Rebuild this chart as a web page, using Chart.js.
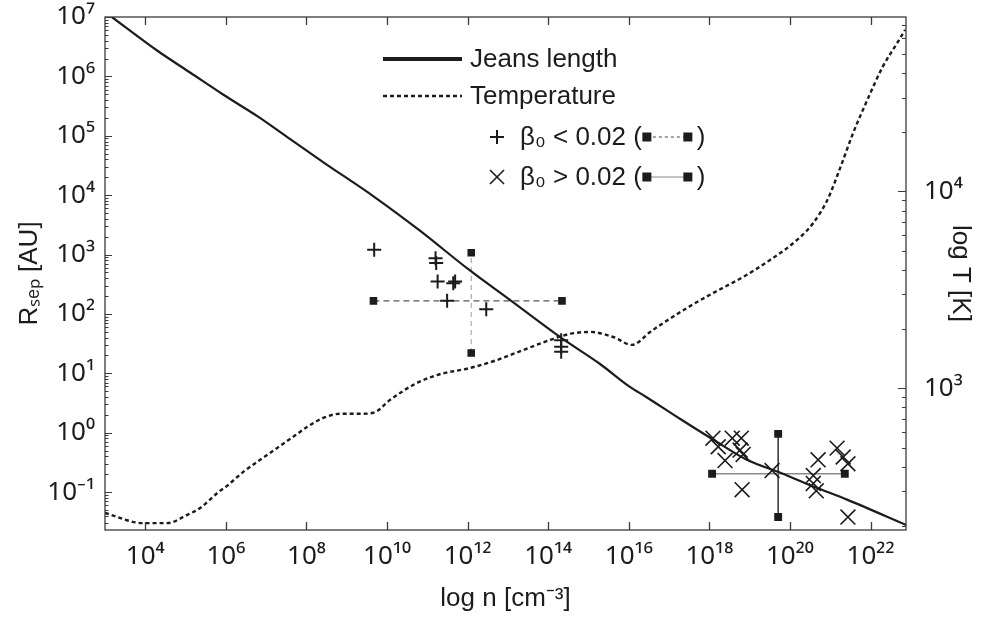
<!DOCTYPE html>
<html>
<head>
<meta charset="utf-8">
<script src="https://cdn.jsdelivr.net/npm/chart.js@4.4.1/dist/chart.umd.min.js"></script>
<style>
  html, body { margin: 0; padding: 0; background: #ffffff; }
  canvas { display: block; }
</style>
</head>
<body>
<canvas id="c" width="981" height="619"></canvas>
<script>
// ---------------- data ----------------
// Jeans length curve: density n [cm^-3] vs R_sep [AU]
const jeansN = [1.48e3, 2.0e4, 1.32e5, 8.7e5, 6.3e6, 4.2e7, 2.75e8, 4.9e9, 6.2e10, 1.1e12, 1.1e13, 1.95e14, 1.9e15, 1.07e16, 2.7e16, 1.9e17, 1.26e18, 8.5e18, 6.0e19, 4.0e20, 2.7e21, 7.6e22];
const jeansR = [1e7, 2.7e6, 1.15e6, 4.9e5, 2.1e5, 8.5e4, 3.5e4, 9.3e3, 2.6e3, 550, 174, 41, 14.5, 5.9, 4.0, 1.7, 0.76, 0.35, 0.21, 0.123, 0.074, 0.028];

// Temperature curve: density n vs T [K] (right axis)
const tempN = [1.0e3, 8.9e3, 3.5e4, 1.1e5, 2.3e5, 6.2e5, 1.07e6, 2.7e6, 7.1e6, 1.9e7, 4.7e7, 1.05e8, 2.6e8, 6.9e8, 2.1e9, 4.6e9, 1.2e10, 4.5e10, 1.8e11, 1.17e12, 5.5e12, 2.4e13, 1.12e14, 3.5e14, 1.1e15, 4.1e15, 1.2e16, 3.4e16, 7.2e16, 2.8e17, 1.26e18, 6.9e18, 3.2e19, 1.5e20, 3.8e20, 8.5e20, 1.8e21, 3.7e21, 8.3e21, 2.0e22, 4.6e22, 7.2e22];
const tempT = [233, 207, 207, 228, 247, 295, 320, 377, 434, 499, 568, 638, 708, 743, 743, 752, 875, 1042, 1172, 1271, 1396, 1567, 1762, 1892, 1936, 1824, 1663, 1936, 2148, 2564, 3055, 3681, 4487, 5675, 6918, 9057, 13300, 19800, 29100, 42900, 56800, 66100];

// beta0 < 0.02 fragments (+)
const plusN = [4.8e9, 1.6e11, 1.66e11, 1.8e11, 4.9e11, 4.4e11, 3.1e11, 2.9e12, 2.1e14, 2.1e14, 2.1e14];
const plusR = [1200, 870, 720, 350, 350, 330, 166, 120, 36, 28, 23];

// beta0 > 0.02 fragments (x)
const crossN = [1.23e18, 1.66e18, 2.45e18, 3.7e18, 6.2e18, 5.8e18, 6.9e18, 6.5e18, 3.6e19, 5.0e20, 3.8e20, 3.8e20, 4.5e20, 1.48e21, 2.1e21, 2.75e21, 2.75e21];
const crossR = [0.81, 0.58, 0.34, 0.81, 0.81, 0.51, 0.43, 0.11, 0.23, 0.35, 0.19, 0.14, 0.105, 0.55, 0.39, 0.30, 0.038];

// spread bars: [min, centre, max]
const lowBarN = [4.6e9, 1.23e12, 2.2e14];
const lowBarR = [22, 166, 1070];
const highBarN = [1.17e18, 5.1e19, 2.3e21];
const highBarR = [0.038, 0.204, 0.955];

// axis ranges and tick labels
const nRange = [1e3, 7.6e22];
const rRange = [0.023, 1e7];
const tRange = [191, 7.69e4];
const nTicks = [1e4, 1e6, 1e8, 1e10, 1e12, 1e14, 1e16, 1e18, 1e20, 1e22];
const rTicks = [1e-1, 1e0, 1e1, 1e2, 1e3, 1e4, 1e5, 1e6, 1e7];
const tTicks = [1e3, 1e4];

const legendLabels = ['Jeans length', 'Temperature', 'β₀ < 0.02 (', 'β₀ > 0.02 ('];
const xTitle = 'log n [cm⁻³]';
const yTitle = 'Rₛₑₚ [AU]';
const y2Title = 'log T [K]';

// ---------------- helpers ----------------
const SUP = {'0':'⁰','1':'¹','2':'²','3':'³','4':'⁴','5':'⁵','6':'⁶','7':'⁷','8':'⁸','9':'⁹','-':'⁻'};
const powLabel = v => '10' + String(Math.round(Math.log10(v))).split('').map(ch => SUP[ch]).join('');
const pts = (xs, ys) => xs.map((x, i) => ({x: x, y: ys[i]}));
const FONT = "'Liberation Sans', Arial, Helvetica, sans-serif";
const INK = '#1c1c1c';

const frame = {
  id: 'frame',
  afterDraw(chart) {
    const {ctx, chartArea: a, scales} = chart;
    ctx.save();
    ctx.strokeStyle = '#3a3a3a';
    ctx.lineWidth = 1.3;
    const seg = (x1, y1, x2, y2) => { ctx.beginPath(); ctx.moveTo(x1, y1); ctx.lineTo(x2, y2); ctx.stroke(); };
    ctx.strokeRect(a.left, a.top, a.right - a.left, a.bottom - a.top);
    nTicks.forEach(v => {
      const px = Math.round(scales.x.getPixelForValue(v)) + 0.5;
      seg(px, a.bottom, px, a.bottom - 8);
      seg(px, a.top, px, a.top + 8);
    });
    ctx.lineWidth = 1;
    const minorTicks = (scale, lo, hi, x0, dir, majLen, minLen) => {
      for (let e = Math.floor(Math.log10(lo)); e <= Math.ceil(Math.log10(hi)); e++) {
        for (let m = 1; m <= 9; m++) {
          const v = m * Math.pow(10, e);
          if (v < lo || v > hi) continue;
          const py = Math.round(scale.getPixelForValue(v)) + 0.5;
          seg(x0, py, x0 + dir * (m === 1 ? majLen : minLen), py);
        }
      }
    };
    minorTicks(scales.y, rRange[0], rRange[1], a.left, 1, 7, 3.5);
    minorTicks(scales.yT, tRange[0], tRange[1], a.right, -1, 8, 4);
    ctx.restore();
  }
};

const keyBox = {
  id: 'keyBox',
  afterDraw(chart) {
    const {ctx, chartArea: a} = chart;
    const x0 = a.left + 278, tx = a.left + 365, mx = a.left + 392, tx2 = a.left + 415;
    const rows = [a.top + 42, a.top + 79, a.top + 120, a.top + 160];
    ctx.save();
    ctx.fillStyle = INK;
    ctx.strokeStyle = INK;
    ctx.font = '26px ' + FONT;
    ctx.textBaseline = 'middle';
    ctx.textAlign = 'left';
    const seg = (x1, y1, x2, y2) => { ctx.beginPath(); ctx.moveTo(x1, y1); ctx.lineTo(x2, y2); ctx.stroke(); };
    ctx.lineWidth = 4;
    seg(x0, rows[0], x0 + 79, rows[0]);
    ctx.fillText(legendLabels[0], tx, rows[0] + 1);
    ctx.lineWidth = 2.4;
    ctx.setLineDash([4, 3]);
    seg(x0, rows[1], x0 + 79, rows[1]);
    ctx.setLineDash([]);
    ctx.fillText(legendLabels[1], tx, rows[1] + 1);
    ctx.lineWidth = 2;
    seg(mx - 7, rows[2], mx + 7, rows[2]);
    seg(mx, rows[2] - 7, mx, rows[2] + 7);
    ctx.lineWidth = 1.6;
    seg(mx - 7, rows[3] - 7, mx + 7, rows[3] + 7);
    seg(mx - 7, rows[3] + 7, mx + 7, rows[3] - 7);
    [2, 3].forEach((k, j) => {
      const y = rows[k];
      ctx.fillText(legendLabels[k], tx2, y + 1);
      const w = ctx.measureText(legendLabels[k]).width;
      const s1 = tx2 + w + 5, s2 = s1 + 41;
      ctx.lineWidth = 1.2;
      ctx.strokeStyle = j === 0 ? '#666' : '#888';
      if (j === 0) ctx.setLineDash([3, 3]);
      seg(s1, y, s2, y);
      ctx.setLineDash([]);
      ctx.fillStyle = INK;
      ctx.fillRect(s1 - 4.5, y - 4.5, 9, 9);
      ctx.fillRect(s2 - 4.5, y - 4.5, 9, 9);
      ctx.fillText(')', s2 + 9, y + 1);
      ctx.strokeStyle = INK;
    });
    ctx.restore();
  }
};

const tickFont = {family: "'Noto Sans', 'DejaVu Sans', sans-serif", size: 26};
const titleFont = {family: FONT, size: 26};
const noPadV = s => { s.paddingTop = 0; s.paddingBottom = 0; };

new Chart(document.getElementById('c'), {
  type: 'scatter',
  data: {
    datasets: [
      {
        type: 'line', label: 'Jeans length', data: pts(jeansN, jeansR), yAxisID: 'y',
        borderColor: INK, borderWidth: 2.2, pointRadius: 0, cubicInterpolationMode: 'monotone', order: 3
      },
      {
        type: 'line', label: 'Temperature', data: pts(tempN, tempT), yAxisID: 'yT',
        borderColor: INK, borderWidth: 2.4, borderDash: [4, 3], pointRadius: 0, cubicInterpolationMode: 'monotone', order: 4
      },
      {
        type: 'line', label: 'low spread n', yAxisID: 'y',
        data: pts([lowBarN[0], lowBarN[2]], [lowBarR[1], lowBarR[1]]),
        borderColor: '#555', borderWidth: 1.2, borderDash: [6, 4],
        pointStyle: 'rect', pointRadius: 4.5, pointBackgroundColor: INK, pointBorderColor: INK, order: 5
      },
      {
        type: 'line', label: 'low spread R', yAxisID: 'y',
        data: pts([lowBarN[1], lowBarN[1]], [lowBarR[0], lowBarR[2]]),
        borderColor: '#aaa', borderWidth: 1.2, borderDash: [5, 4],
        pointStyle: 'rect', pointRadius: 4.5, pointBackgroundColor: INK, pointBorderColor: INK, order: 5
      },
      {
        type: 'line', label: 'high spread n', yAxisID: 'y',
        data: pts([highBarN[0], highBarN[2]], [highBarR[1], highBarR[1]]),
        borderColor: '#8a8a8a', borderWidth: 1.5,
        pointStyle: 'rect', pointRadius: 4.5, pointBackgroundColor: INK, pointBorderColor: INK, order: 5
      },
      {
        type: 'line', label: 'high spread R', yAxisID: 'y',
        data: pts([highBarN[1], highBarN[1]], [highBarR[0], highBarR[2]]),
        borderColor: '#333', borderWidth: 1.5,
        pointStyle: 'rect', pointRadius: 4.5, pointBackgroundColor: INK, pointBorderColor: INK, order: 5
      },
      {
        label: 'β0 < 0.02', data: pts(plusN, plusR), yAxisID: 'y', showLine: false,
        pointStyle: 'cross', pointRadius: 7, pointBorderWidth: 2, pointBorderColor: INK, order: 1
      },
      {
        label: 'β0 > 0.02', data: pts(crossN, crossR), yAxisID: 'y', showLine: false,
        pointStyle: 'crossRot', pointRadius: 10.5, pointBorderWidth: 1.6, pointBorderColor: INK, order: 2
      }
    ]
  },
  options: {
    responsive: false,
    animation: false,
    events: [],
    layout: {padding: {top: 17, left: 0, right: 0, bottom: 0}},
    plugins: {legend: {display: false}, tooltip: {enabled: false}},
    scales: {
      x: {
        type: 'logarithmic', position: 'bottom', min: nRange[0], max: nRange[1], bounds: 'data',
        afterBuildTicks: s => { s.ticks = nTicks.map(v => ({value: v})); },
        afterFit: s => { s.height = 89; s.paddingLeft = 0; s.paddingRight = 0; },
        ticks: {callback: v => powLabel(v), font: tickFont, color: INK, padding: 11, maxRotation: 0, autoSkip: false},
        grid: {display: false, drawTicks: false},
        border: {display: false},
        title: {display: true, text: xTitle, font: titleFont, color: INK, padding: {top: 0, bottom: 5}}
      },
      y: {
        type: 'logarithmic', position: 'left', min: rRange[0], max: rRange[1], bounds: 'data',
        afterBuildTicks: s => { s.ticks = rTicks.map(v => ({value: v})); },
        afterFit: s => { s.width = 105; noPadV(s); },
        ticks: {callback: v => powLabel(v), font: tickFont, color: INK, padding: 10, autoSkip: false},
        grid: {display: false, drawTicks: false},
        border: {display: false},
        title: {display: true, text: yTitle, font: titleFont, color: INK, padding: {top: 14, bottom: 0}}
      },
      yT: {
        type: 'logarithmic', position: 'right', min: tRange[0], max: tRange[1], bounds: 'data',
        afterBuildTicks: s => { s.ticks = tTicks.map(v => ({value: v})); },
        afterFit: s => { s.width = 75; noPadV(s); },
        ticks: {callback: v => powLabel(v), font: tickFont, color: INK, padding: 18, autoSkip: false},
        grid: {display: false, drawTicks: false},
        border: {display: false},
        title: {display: true, text: y2Title, font: titleFont, color: INK, padding: {top: 5, bottom: 0}}
      }
    }
  },
  plugins: [frame, keyBox]
});
</script>
</body>
</html>
